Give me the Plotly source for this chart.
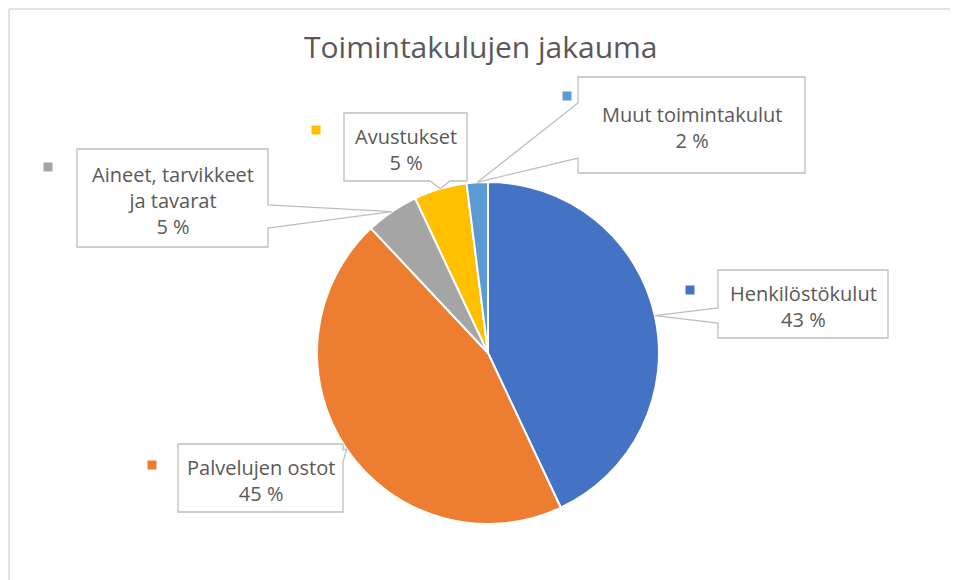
import math
import plotly.graph_objects as go

# ---- data ----
categories = ["Henkilöstökulut", "Palvelujen ostot", "Aineet, tarvikkeet ja tavarat",
              "Avustukset", "Muut toimintakulut"]
label_text = ["Henkilöstökulut", "Palvelujen ostot", "Aineet, tarvikkeet<br>ja tavarat",
              "Avustukset", "Muut toimintakulut"]
values = [43, 45, 5, 5, 2]
colors = ["#4472C4", "#ED7D31", "#A5A5A5", "#FFC000", "#5B9BD5"]

W, H = 958, 580
OFF = 8  # page body margin offset
CX, CY, R = 488, 353, 171


def px(x, y):
    return (x - OFF) / W, 1 - (y - OFF) / H


d0 = px(CX - R, CY + R)
d1 = px(CX + R, CY - R)
fig = go.Figure(go.Pie(
    labels=categories, values=values, sort=False, direction="clockwise", rotation=0,
    marker=dict(colors=colors, line=dict(color="white", width=2)),
    textinfo="none", hoverinfo="label+percent", showlegend=False,
    domain=dict(x=[d0[0], d1[0]], y=[d0[1], d1[1]]),
))

# callout boxes: (x0, y0, x1, y1, side, a, b), marker square position
boxes = [
    (718, 270, 888, 338, "left", 308, 323, (690, 290)),
    (178, 444, 343, 512, "right", 450, 462, (152, 465)),
    (77, 149, 268, 247, "right", 205, 228, (48, 167)),
    (344, 113, 467, 181, "bottom", 430, 450, (316, 130)),
    (578, 77, 805, 173, "left", 103, 158, (567, 96)),
]

total = sum(values)
cum = 0
shapes = []
annotations = []
for i, v in enumerate(values):
    mid = (cum + v / 2) / total
    cum += v
    ang = 2 * math.pi * mid
    tx, ty = CX + R * math.sin(ang), CY - R * math.cos(ang)
    x0, y0, x1, y1, side, a, b, sq = boxes[i]
    if side == "left":
        pts = [(x0, y0), (x1, y0), (x1, y1), (x0, y1), (x0, b), (tx, ty), (x0, a)]
    elif side == "right":
        pts = [(x0, y0), (x1, y0), (x1, a), (tx, ty), (x1, b), (x1, y1), (x0, y1)]
    else:  # bottom
        pts = [(x0, y0), (x1, y0), (x1, y1), (b, y1), (tx, ty), (a, y1), (x0, y1)]
    path = "M " + " L ".join("%f,%f" % px(*p) for p in pts) + " Z"
    shapes.append(dict(type="path", xref="paper", yref="paper", path=path,
                       fillcolor="white", line=dict(color="#BFBFBF", width=1.3), layer="above"))
    pct = round(100 * v / total)
    ax, ay = px((x0 + x1) / 2, (y0 + y1) / 2 + 2)
    annotations.append(dict(x=ax, y=ay, xref="paper", yref="paper", showarrow=False,
                            text="%s<br>%d %%" % (label_text[i], pct),
                            font=dict(family="Open Sans", size=20, color="#595959"),
                            align="center", xanchor="center", yanchor="middle"))
    sx, sy = sq
    s0 = px(sx - 4.5, sy + 4.5)
    s1 = px(sx + 4.5, sy - 4.5)
    shapes.append(dict(type="rect", xref="paper", yref="paper", x0=s0[0], y0=s0[1],
                       x1=s1[0], y1=s1[1], fillcolor=colors[i], line=dict(width=0)))

# outer frame lines (top and left)
f0 = px(9, 9)
shapes.append(dict(type="line", xref="paper", yref="paper", x0=f0[0], x1=1, y0=f0[1], y1=f0[1],
                   line=dict(color="#D9D9D9", width=1.5)))
shapes.append(dict(type="line", xref="paper", yref="paper", x0=f0[0], x1=f0[0], y0=0, y1=f0[1],
                   line=dict(color="#D9D9D9", width=1.5)))

tpos = px(481, 47)
annotations.append(dict(x=tpos[0], y=tpos[1], xref="paper", yref="paper", showarrow=False,
                        text="Toimintakulujen jakauma",
                        font=dict(family="Open Sans", size=30, color="#595959"),
                        xanchor="center", yanchor="middle"))

fig.update_layout(width=W, height=H, margin=dict(l=0, r=0, t=0, b=0),
                  paper_bgcolor="white", plot_bgcolor="white",
                  shapes=shapes, annotations=annotations)
fig.write_html("out.html")
